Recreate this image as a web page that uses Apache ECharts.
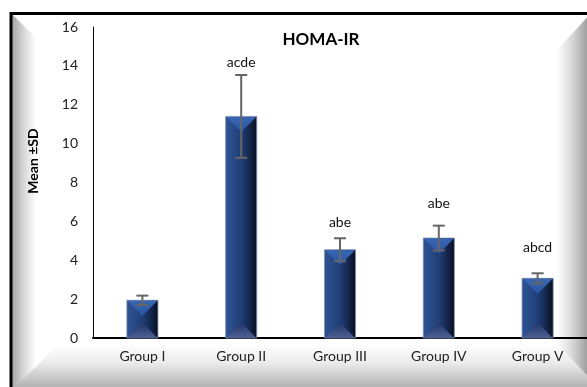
<!DOCTYPE html>
<html><head><meta charset="utf-8">
<script src="https://cdn.jsdelivr.net/npm/echarts@6/dist/echarts.min.js"></script>
<style>html,body{margin:0;padding:0;background:#fff}#c{width:587px;height:387px}</style>
</head><body><div id="c"></div>
<script>
const categories = ['Group I', 'Group II', 'Group III', 'Group IV', 'Group V'];
const means = [1.94, 11.4, 4.54, 5.14, 3.07];
const sds = [0.24, 2.13, 0.59, 0.64, 0.26];
const sigLabels = ['', 'acde', 'abe', 'abe', 'abcd'];
const labelHeights = [null, 14.17, 5.96, 6.93, 4.68];
const yTicks = [0, 2, 4, 6, 8, 10, 12, 14, 16];

const FONT = 'Lato';
const chart = echarts.init(document.getElementById('c'), null, {renderer: 'canvas'});

function lg(x, y, x2, y2, stops) {
  return new echarts.graphic.LinearGradient(x, y, x2, y2, stops.map((c, i) => ({offset: c[0], color: c[1]})));
}

const barData = categories.map((c, i) => [i, means[i], sds[i], labelHeights[i]]);

const option = {
  animation: false,
  title: {
    text: 'HOMA-IR', left: 316, top: 26, textAlign: 'center',
    textStyle: {fontFamily: FONT, fontSize: 17, fontWeight: 'bold', color: '#000'}
  },
  graphic: [
    {type: 'polygon', z: -10, shape: {points: [[12, 14], [36, 38], [36, 392], [12, 392]]},
      style: {fill: lg(0, 0, 1, 0, [[0, '#a4a4a4'], [0.5, '#d8d8d8'], [1, '#ffffff']])}},
    {type: 'polygon', z: -10, shape: {points: [[557, 50], [592, 12], [592, 381], [557, 344]]},
      style: {fill: lg(0, 0, 1, 0, [[0, '#ffffff'], [0.45, '#d6d6d6'], [1, '#8c8c8c']])}},
    {type: 'polygon', z: -9, shape: {points: [[12, 390], [58, 345], [557, 344], [592, 381], [592, 392], [12, 392]]},
      style: {fill: lg(0, 0, 0, 1, [[0, '#ffffff'], [0.4, '#ebebeb'], [1, '#a6a6a6']])}},
    {type: 'rect', z: -8, shape: {x: 11, y: 13.5, width: 590, height: 390},
      style: {fill: null, stroke: '#000', lineWidth: 3}},
    {type: 'text', z: 5, x: 33, y: 161, rotation: Math.PI / 2,
      style: {text: 'Mean ±SD', fontFamily: FONT, fontSize: 14, fontWeight: 'bold', fill: '#000',
        align: 'center', verticalAlign: 'middle'}}
  ],
  grid: {left: 93, right: 0, top: 27, bottom: 49, containLabel: false},
  xAxis: {
    type: 'category', data: categories,
    axisLine: {lineStyle: {color: '#000', width: 2}},
    axisTick: {show: false},
    axisLabel: {fontFamily: FONT, fontSize: 14, color: '#222', margin: 11}
  },
  yAxis: {
    type: 'value', min: 0, max: 16, interval: 2,
    axisLine: {show: true, lineStyle: {color: '#000', width: 1}},
    axisTick: {show: false},
    splitLine: {show: false},
    axisLabel: {fontFamily: FONT, fontSize: 14, color: '#222', margin: 15,
      formatter: v => yTicks.indexOf(v) >= 0 ? String(v) : ''}
  },
  series: [{
    type: 'custom',
    data: barData,
    encode: {x: 0, y: 1},
    renderItem: function (params, api) {
      const i = api.value(0), m = api.value(1), sd = api.value(2), lh = api.value(3);
      const top = api.coord([i, m]);
      const base = api.coord([i, 0]);
      const bw = api.size([1, 0])[0] * 0.315;
      const cx = top[0], x0 = cx - bw / 2, x1 = cx + bw / 2;
      const yT = top[1], yB = base[1];
      const h = yB - yT;
      const d = Math.min(bw / 2, h / 2);
      const children = [
        {type: 'rect', shape: {x: x0, y: yT, width: bw, height: h},
          style: {fill: lg(0, 0, 1, 0, [[0, '#2f5394'], [0.2, '#2a4c8a'], [0.5, '#203e77'], [0.7, '#172d58'], [1, '#080f1e']]),
            stroke: '#8494b8', lineWidth: 0.8}},
        {type: 'polygon', shape: {points: [[x0 + 0.5, yT + 0.5], [x1 - 0.5, yT + 0.5], [cx, yT + d]]},
          style: {fill: lg(0, 0, 0, 1, [[0, '#3866b2'], [1, '#2c54a2']])}},
        {type: 'polygon', shape: {points: [[x0 + 0.5, yB], [x1 - 0.5, yB], [cx, yB - d]]},
          style: {fill: lg(0, 1, 0, 0, [[0, '#4c6094'], [1, '#203468']])}}
      ];
      const eT = api.coord([i, m + sd])[1], eB = api.coord([i, m - sd])[1];
      const cw = 6;
      const es = {stroke: '#666', lineWidth: 2};
      children.push({type: 'line', shape: {x1: cx, y1: eT, x2: cx, y2: eB}, style: es});
      children.push({type: 'line', shape: {x1: cx - cw, y1: eT, x2: cx + cw, y2: eT}, style: es});
      children.push({type: 'line', shape: {x1: cx - cw, y1: eB, x2: cx + cw, y2: eB}, style: es});
      const txt = sigLabels[i];
      if (txt && !isNaN(lh)) {
        const ly = api.coord([i, lh])[1];
        children.push({type: 'text', x: cx, y: ly,
          style: {text: txt, fontFamily: FONT, fontSize: 14, fill: '#111', align: 'center', verticalAlign: 'middle'}});
      }
      return {type: 'group', children: children};
    }
  }]
};
chart.setOption(option);
</script>
</body></html>
